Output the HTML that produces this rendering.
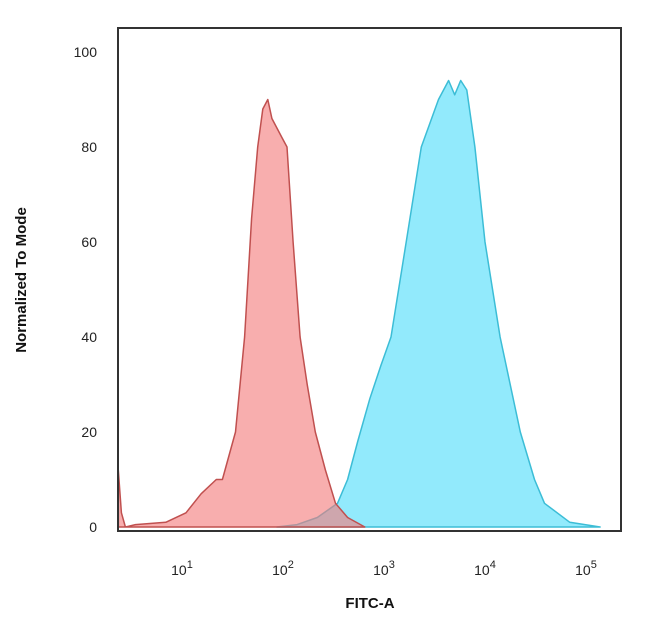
<!DOCTYPE html>
<html><head><meta charset="utf-8"><style>
body{margin:0;background:#fff;width:650px;height:629px;overflow:hidden}
text{font-family:"Liberation Sans",sans-serif}
</style></head><body>
<svg id="chart" width="650" height="629" viewBox="0 0 650 629" xmlns="http://www.w3.org/2000/svg">
<g id="plot"></g>
<rect x="118" y="28" width="503" height="503" fill="none" stroke="#333" stroke-width="2"/>
<g id="yticks"></g>
<g id="xticks"></g>
<text transform="translate(26,280) rotate(-90)" text-anchor="middle" font-size="15" font-weight="bold" fill="#111">Normalized To Mode</text>
<text x="370" y="608" text-anchor="middle" font-size="15" font-weight="bold" fill="#111">FITC-A</text>
</svg>
<script>
const yTicks=[0,20,40,60,80,100];
const xDecades=[1,2,3,4,5];
const redLog=[0.33,0.36,0.40,0.5,0.8,1.0,1.15,1.3,1.36,1.49,1.58,1.65,1.71,1.76,1.81,1.85,1.9,1.95,2.0,2.06,2.13,2.2,2.28,2.38,2.48,2.6,2.77];
const redVal=[12,3,0,0.5,1,3,7,10,10,20,40,65,80,88,90,86,84,82,80,60,40,30,20,12,5,2,0];
const blueLog=[1.9,2.1,2.3,2.5,2.6,2.7,2.82,2.93,3.03,3.18,3.33,3.5,3.6,3.66,3.72,3.78,3.86,3.96,4.11,4.31,4.45,4.55,4.8,5.1];
const blueVal=[0,0.5,2,5,10,18,27,34,40,60,80,90,94,91,94,92,80,60,40,20,10,5,1,0];
const X=l=>186+(l-1)*101, Y=v=>527-v*4.75;
const ns="http://www.w3.org/2000/svg";
function area(ls,vs,fill,stroke,op,name){
  let d="M"+X(ls[0])+","+Y(0);
  ls.forEach((l,i)=>d+=" L"+X(l).toFixed(1)+","+Y(vs[i]).toFixed(1));
  d+=" L"+X(ls[ls.length-1])+","+Y(0)+" Z";
  const p=document.createElementNS(ns,"path");
  
  
  p.setAttribute("d",d);p.setAttribute("fill",fill);p.setAttribute("fill-opacity",op);
  p.setAttribute("stroke",stroke);p.setAttribute("stroke-width","1.5");p.setAttribute("stroke-linejoin","round");
  document.getElementById("plot").appendChild(p);
}
area(blueLog,blueVal,"#7fe6fb","#3cbdd6","0.85","blue-histogram");
area(redLog,redVal,"#f47c7c","#c0504f","0.62","red-histogram");
const yt=document.getElementById("yticks");
yTicks.forEach(v=>{const t=document.createElementNS(ns,"text");
  
  
  t.setAttribute("x",97);t.setAttribute("y",Y(v)+5);t.setAttribute("text-anchor","end");
  t.setAttribute("font-size","14");t.setAttribute("fill","#222");t.textContent=v;yt.appendChild(t);});
const xt=document.getElementById("xticks");
xDecades.forEach(d=>{const t=document.createElementNS(ns,"text");
  
  
  t.setAttribute("x",X(d)-4);t.setAttribute("y",575);t.setAttribute("text-anchor","middle");
  t.setAttribute("font-size","14");t.setAttribute("fill","#222");
  t.innerHTML='10<tspan dy="-7" font-size="11">'+d+'</tspan>';xt.appendChild(t);});
</script>
</body></html>
